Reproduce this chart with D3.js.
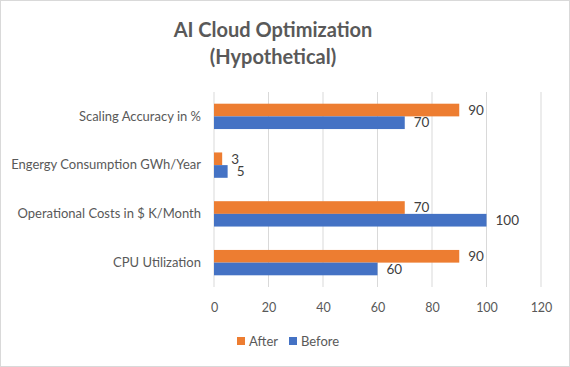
<!DOCTYPE html>
<html lang="en">
<head>
  <meta charset="UTF-8">
  <title>AI Cloud Optimization</title>
  <style>
    body {
      margin: 0;
      padding: 0;
      background: #fff;
    }
    svg {
      display: block;
      font-family: 'Lato', sans-serif;
    }
  </style>
</head>
<body>

<script src="https://d3js.org/d3.v7.min.js"></script>

<script>
  // Chart data
  const categories = ['Scaling Accuracy in %', 'Engergy Consumption GWh/Year', 'Operational Costs in $ K/Month', 'CPU Utilization'];
  const seriesNames = ['After', 'Before'];
  const afterValues = [90, 3, 70, 90];
  const beforeValues = [70, 5, 100, 60];
  const xTicks = [0, 20, 40, 60, 80, 100, 120];
  const colors = { After: '#ED7D31', Before: '#4472C4' };

  const width = 570, height = 367;
  const plot = { left: 214, right: 541, top: 92, bottom: 287 };

  const svg = d3.select('body').append('svg')
    .attr('width', width)
    .attr('height', height);

  // outer border
  svg.append('rect')
    .attr('x', 0.5).attr('y', 0.5)
    .attr('width', width - 1).attr('height', height - 1)
    .attr('fill', '#fff')
    .attr('stroke', '#d9d9d9');

  // title
  const title = svg.append('text')
    .attr('text-anchor', 'middle')
    .attr('fill', '#595959')
    .style('font-size', '20px')
    .style('font-weight', 'bold');
  title.append('tspan').attr('x', 273).attr('y', 37).text('AI Cloud Optimization');
  title.append('tspan').attr('x', 273).attr('y', 64).text('(Hypothetical)');

  const x = d3.scaleLinear().domain([0, 120]).range([plot.left, plot.right]);
  const y = d3.scaleBand().domain(categories).range([plot.top, plot.bottom]).paddingInner(0.48).paddingOuter(0.24);
  const sub = d3.scaleBand().domain(seriesNames).range([0, y.bandwidth()]);

  // gridlines
  svg.append('g')
    .selectAll('line')
    .data(xTicks)
    .join('line')
    .attr('x1', d => x(d)).attr('x2', d => x(d))
    .attr('y1', plot.top).attr('y2', plot.bottom)
    .attr('stroke', '#d9d9d9')
    .attr('stroke-width', 1);

  // x axis labels
  const xAxis = svg.append('g')
    .attr('transform', `translate(0,${plot.bottom})`)
    .call(d3.axisBottom(x).tickValues(xTicks).tickSize(0).tickPadding(16));
  xAxis.select('.domain').remove();
  xAxis.selectAll('text')
    .attr('fill', '#595959')
    .style('font-family', "'Lato', sans-serif")
    .style('font-size', '12.5px');

  // category labels
  const yAxis = svg.append('g')
    .attr('transform', `translate(${plot.left},0)`)
    .call(d3.axisLeft(y).tickSize(0).tickPadding(13));
  yAxis.select('.domain').remove();
  yAxis.selectAll('text')
    .attr('fill', '#595959')
    .style('font-family', "'Lato', sans-serif")
    .style('font-size', '13px');

  const rows = categories.map((c, i) => ({ category: c, After: afterValues[i], Before: beforeValues[i] }));

  const groups = svg.append('g')
    .selectAll('g')
    .data(rows)
    .join('g')
    .attr('transform', d => `translate(0,${y(d.category)})`);

  groups.selectAll('rect')
    .data(d => seriesNames.map(s => ({ key: s, value: d[s] })))
    .join('rect')
    .attr('x', x(0))
    .attr('y', d => sub(d.key))
    .attr('width', d => x(d.value) - x(0))
    .attr('height', sub.bandwidth())
    .attr('fill', d => colors[d.key]);

  // value labels
  groups.selectAll('text')
    .data(d => seriesNames.map(s => ({ key: s, value: d[s] })))
    .join('text')
    .attr('x', d => x(d.value) + 9)
    .attr('y', d => sub(d.key) + sub.bandwidth() / 2)
    .attr('dy', '0.35em')
    .attr('fill', '#404040')
    .style('font-size', '13.5px')
    .text(d => d.value);

  // legend
  const legend = svg.append('g').attr('transform', 'translate(237,341)');
  const legendOffsets = [0, 52];
  seriesNames.forEach((s, i) => {
    const g = legend.append('g').attr('transform', `translate(${legendOffsets[i]},0)`);
    g.append('rect')
      .attr('x', 0).attr('y', -4)
      .attr('width', 8).attr('height', 8)
      .attr('fill', colors[s]);
    g.append('text')
      .attr('x', 12).attr('y', 0)
      .attr('dy', '0.35em')
      .attr('fill', '#595959')
      .style('font-size', '13px')
      .text(s);
  });
</script>

</body>
</html>
